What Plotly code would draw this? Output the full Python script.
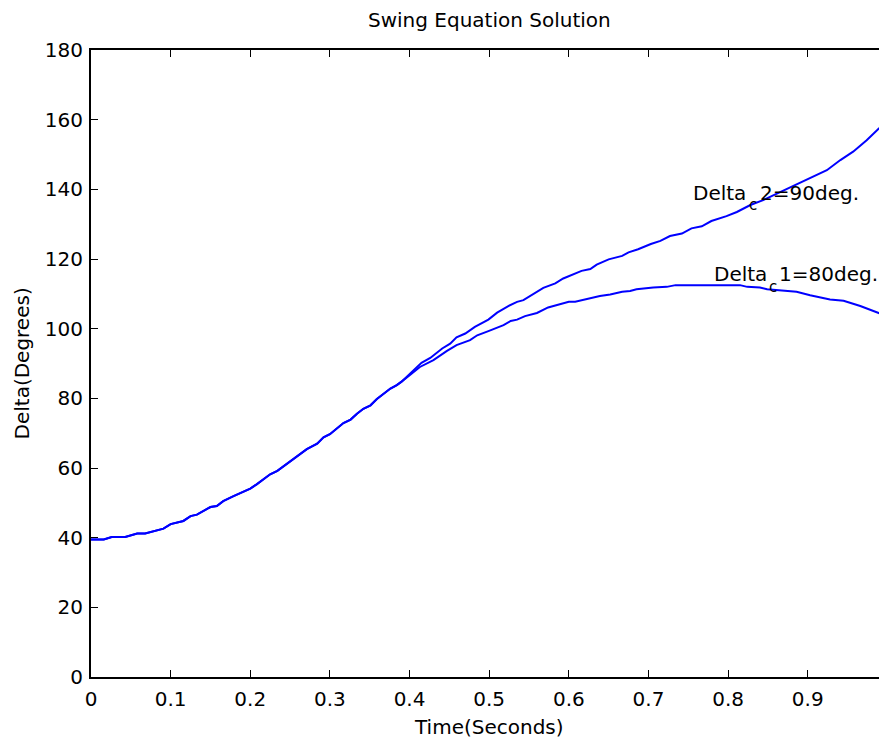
import plotly.graph_objects as go

# ---- data ----
t_shared = [0, 0.016, 0.026, 0.043, 0.058, 0.068, 0.091, 0.100, 0.116, 0.125, 0.133,
            0.150, 0.158, 0.166, 0.179, 0.200, 0.208, 0.225, 0.234, 0.250, 0.271,
            0.284, 0.292, 0.300, 0.317, 0.326, 0.334, 0.342, 0.351, 0.359, 0.376,
            0.384, 0.390]
d_shared = [39.5, 39.5, 40.2, 40.2, 41.2, 41.2, 42.6, 43.9, 44.8, 46.2, 46.6,
            48.8, 49.1, 50.5, 51.9, 54.1, 55.3, 58.2, 59.2, 61.9, 65.4,
            67.0, 68.8, 69.7, 72.9, 73.9, 75.6, 77.0, 78.0, 79.8, 82.8,
            83.8, 84.8]

t_c2 = [0.415, 0.426, 0.441, 0.451, 0.459, 0.470, 0.482, 0.499, 0.510, 0.524, 0.535,
        0.543, 0.568, 0.583, 0.593, 0.616, 0.627, 0.635, 0.650, 0.667, 0.675, 0.687,
        0.703, 0.715, 0.727, 0.742, 0.754, 0.767, 0.779, 0.798, 0.811, 0.828, 0.844,
        0.857, 0.874, 0.886, 0.903, 0.924, 0.941, 0.957, 0.974, 0.990]
d_c2 = [90.2, 91.6, 94.3, 95.7, 97.5, 98.6, 100.5, 102.6, 104.6, 106.5, 107.7,
        108.2, 111.7, 113.0, 114.4, 116.6, 117.1, 118.4, 119.9, 120.9, 121.9, 122.8,
        124.3, 125.2, 126.6, 127.3, 128.8, 129.4, 130.9, 132.3, 133.5, 135.5, 136.9,
        138.3, 140.0, 141.2, 143.1, 145.5, 148.4, 150.8, 154.1, 157.6]

t_c1 = [0.413, 0.430, 0.447, 0.459, 0.476, 0.485, 0.499, 0.510, 0.518, 0.527, 0.535,
        0.545, 0.560, 0.574, 0.589, 0.600, 0.608, 0.627, 0.639, 0.652, 0.667, 0.677,
        0.685, 0.706, 0.723, 0.734, 0.773, 0.815, 0.824, 0.840, 0.849, 0.869, 0.886,
        0.903, 0.928, 0.945, 0.966, 0.990]
d_c1 = [89.0, 91.0, 93.6, 95.3, 96.7, 98.1, 99.3, 100.3, 101.0, 102.2, 102.6,
        103.6, 104.5, 106.1, 106.9, 107.7, 107.7, 108.7, 109.4, 109.8, 110.6, 110.8,
        111.3, 111.8, 112.0, 112.5, 112.5, 112.5, 112.0, 111.8, 111.3, 110.9, 110.6,
        109.6, 108.4, 108.0, 106.5, 104.4]

x_ticks = [0, 0.1, 0.2, 0.3, 0.4, 0.5, 0.6, 0.7, 0.8, 0.9]
y_ticks = [0, 20, 40, 60, 80, 100, 120, 140, 160, 180]

title_text = "Swing Equation Solution"
x_title = "Time(Seconds)"
y_title = "Delta(Degrees)"
# curve labels: "Delta" + subscript "c" + rest
label_c2 = ["Delta", "c", "2=90deg."]
label_c1 = ["Delta", "c", "1=80deg."]

FONT = "DejaVu Sans"
BLUE = "#0000ff"

fig = go.Figure()
fig.add_trace(go.Scatter(x=t_shared + t_c1, y=d_shared + d_c1, mode="lines",
                         line=dict(color=BLUE, width=2), showlegend=False))
fig.add_trace(go.Scatter(x=t_shared + t_c2, y=d_shared + d_c2, mode="lines",
                         line=dict(color=BLUE, width=2), showlegend=False))

axis_common = dict(
    showline=True, linecolor="black", linewidth=2,
    ticks="inside", ticklen=7, tickwidth=1, tickcolor="black",
    showgrid=False, zeroline=False,
    tickfont=dict(family=FONT, size=20, color="black"),
)

fig.update_xaxes(range=[0, 0.9895], tickvals=x_ticks, mirror="ticks",
                 ticklabelstandoff=3, **axis_common)
fig.update_yaxes(range=[0, 180], tickvals=y_ticks, mirror=False,
                 ticklabelstandoff=2, **axis_common)

annfont = dict(family=FONT, size=20, color="black")
subfont = dict(family=FONT, size=15, color="black")


def ann(text, x, y, font, xref="x", yref="y", xanchor="left", angle=0):
    return dict(text=text, xref=xref, x=x, yref=yref, y=y, xanchor=xanchor,
                yanchor="middle", textangle=angle, showarrow=False, font=font)


annotations = [
    ann(title_text, 0.5, 1.048, annfont, yref="paper", xanchor="center"),
    ann(x_title, 0.5, -0.080, annfont, yref="paper", xanchor="center"),
    ann(y_title, -0.0876, 0.5, annfont, xref="paper", yref="paper", xanchor="center", angle=-90),
    # label for curve 2
    ann(label_c2[0], 0.7536, 139.0, annfont),
    ann(label_c2[1], 0.8239, 135.6, subfont),
    ann(label_c2[2], 0.8373, 139.0, annfont),
    # label for curve 1
    ann(label_c1[0], 0.7800, 115.8, annfont),
    ann(label_c1[1], 0.8490, 112.1, subfont),
    ann(label_c1[2], 0.8615, 115.8, annfont),
]

fig.update_layout(
    width=879, height=740,
    margin=dict(l=91, r=0, t=50, b=63, pad=0),
    paper_bgcolor="white", plot_bgcolor="white",
    annotations=annotations,
    showlegend=False,
)

fig.write_html("out.html", config={"displayModeBar": False},
               post_script="document.body.style.margin='0';document.body.style.overflow='hidden';")
